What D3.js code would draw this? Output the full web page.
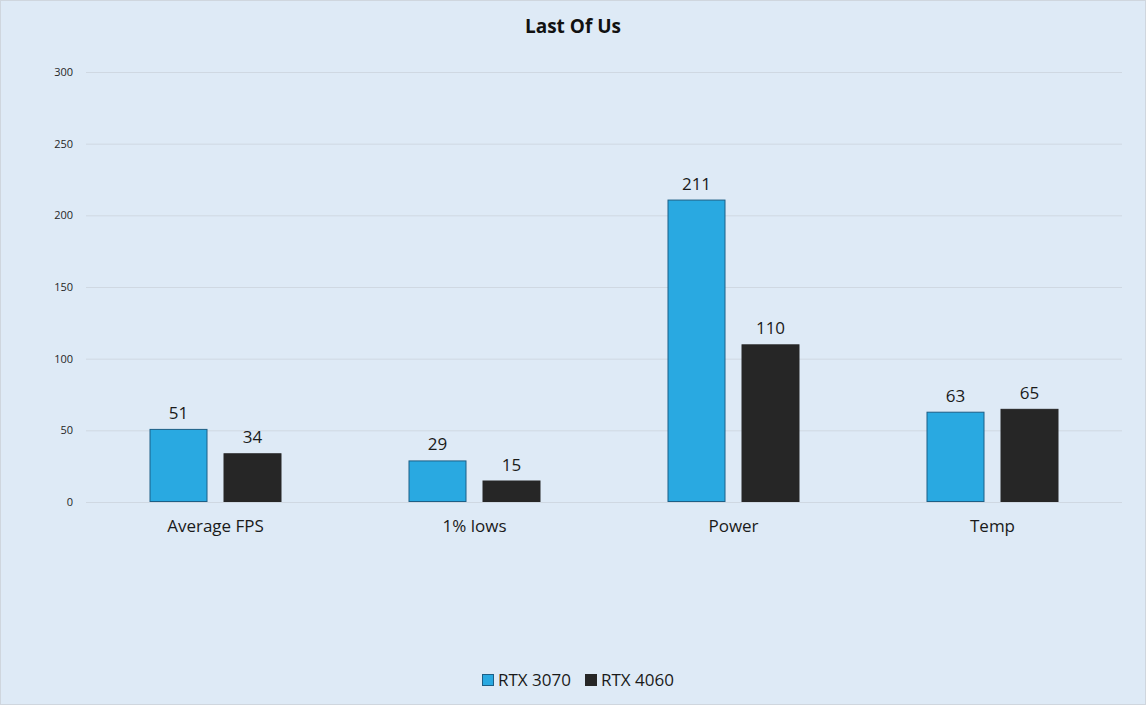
<!DOCTYPE html>
<html><head><meta charset="utf-8">
<script src="https://cdn.jsdelivr.net/npm/d3@7"></script>
<style>html,body{margin:0;padding:0;background:#deeaf6;}svg{display:block;}</style>
</head><body>
<svg id="c" width="1146" height="705"></svg>
<script>
const categories = ["Average FPS", "1% lows", "Power", "Temp"];
const seriesNames = ["RTX 3070", "RTX 4060"];
const rtx3070 = [51, 29, 211, 63];
const rtx4060 = [34, 15, 110, 65];
const yTicks = [0, 50, 100, 150, 200, 250, 300];
const title = "Last Of Us";
const colors = ["#29a9e1", "#262626"];
const strokes = ["#1d5f86", "#262626"];

(function(){
const svg = d3.select("#c");
const W = 1146, H = 705;
svg.append("rect").attr("x",0.5).attr("y",0.5).attr("width",W-1).attr("height",H-1)
  .attr("fill","#deeaf6").attr("stroke","#cfd6de");

const pLeft = 86, pRight = 1122, pTop = 72, pBottom = 502;
const x = d3.scaleBand().domain(categories).range([pLeft, pRight]).paddingInner(0).paddingOuter(0);
const y = d3.scaleLinear().domain([0, 300]).range([pBottom, pTop]);
const series = [rtx3070, rtx4060];
const bw = 58, gap = 16;
const font = "'Open Sans', 'Liberation Sans', sans-serif";

const grid = svg.append("g").attr("transform", `translate(${pLeft},0)`)
  .call(d3.axisLeft(y).tickValues(yTicks).tickSize(-(pRight-pLeft)).tickPadding(13).tickFormat(d3.format("d")));
grid.select(".domain").remove();
grid.selectAll(".tick line").attr("stroke","#cfd8e2").attr("stroke-width",1);
grid.selectAll(".tick text").attr("fill","#262626").style("font-family",font).style("font-size","11px");

series.forEach((vals, si) => {
  const off = si === 0 ? -(gap/2 + bw) : gap/2;
  const g = svg.append("g");
  g.selectAll("rect").data(vals).join("rect")
    .attr("x", (d,i) => x(categories[i]) + x.bandwidth()/2 + off + 0.5)
    .attr("y", d => y(d) + 0.5)
    .attr("width", bw - 1)
    .attr("height", d => pBottom - y(d) - 1)
    .attr("fill", colors[si]).attr("stroke", strokes[si]).attr("stroke-width",1);
  g.selectAll("text").data(vals).join("text")
    .attr("x", (d,i) => x(categories[i]) + x.bandwidth()/2 + off + bw/2)
    .attr("y", d => y(d) - 10)
    .attr("text-anchor","middle").attr("fill","#1a1a1a")
    .style("font-family",font).style("font-size","17px")
    .text(d => d);
});

const xa = svg.append("g").attr("transform", `translate(0,${pBottom})`)
  .call(d3.axisBottom(x).tickSize(0).tickPadding(18));
xa.select(".domain").remove();
xa.selectAll(".tick text").attr("fill","#1a1a1a").style("font-family",font).style("font-size","17px");

svg.append("text").attr("x", 573).attr("y", 33).attr("text-anchor","middle")
  .attr("fill","#111").style("font-family",font)
  .style("font-size","19px").style("font-weight","bold").text(title);

const legX = [482, 585];
const leg = svg.append("g");
seriesNames.forEach((n, i) => {
  leg.append("rect").attr("x", legX[i]+0.5).attr("y", 674.5).attr("width", 11).attr("height", 11)
    .attr("fill", colors[i]).attr("stroke", strokes[i]);
  leg.append("text").attr("x", legX[i] + 16).attr("y", 686)
    .attr("fill","#1a1a1a").style("font-family",font)
    .style("font-size","17px").text(n);
});
})();
</script>
</body></html>
